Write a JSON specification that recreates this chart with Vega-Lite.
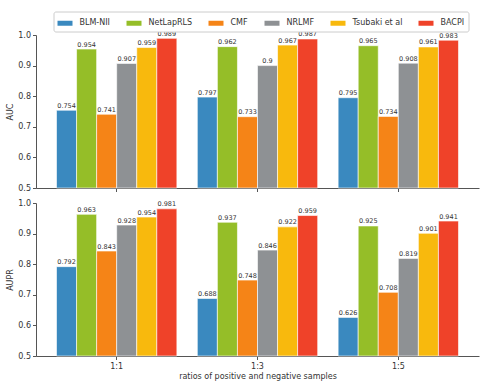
{
  "$schema": "https://vega.github.io/schema/vega-lite/v6.json",
  "padding": {"left": 6, "top": 11, "right": 5, "bottom": 5},
  "background": "white",
  "data": {
    "values": [
      {"ratio": "1:1", "method": "BLM-NII", "AUC": 0.754, "AUPR": 0.792},
      {"ratio": "1:1", "method": "NetLapRLS", "AUC": 0.954, "AUPR": 0.963},
      {"ratio": "1:1", "method": "CMF", "AUC": 0.741, "AUPR": 0.843},
      {"ratio": "1:1", "method": "NRLMF", "AUC": 0.907, "AUPR": 0.928},
      {"ratio": "1:1", "method": "Tsubaki et al", "AUC": 0.959, "AUPR": 0.954},
      {"ratio": "1:1", "method": "BACPI", "AUC": 0.989, "AUPR": 0.981},
      {"ratio": "1:3", "method": "BLM-NII", "AUC": 0.797, "AUPR": 0.688},
      {"ratio": "1:3", "method": "NetLapRLS", "AUC": 0.962, "AUPR": 0.937},
      {"ratio": "1:3", "method": "CMF", "AUC": 0.733, "AUPR": 0.748},
      {"ratio": "1:3", "method": "NRLMF", "AUC": 0.9, "AUPR": 0.846},
      {"ratio": "1:3", "method": "Tsubaki et al", "AUC": 0.967, "AUPR": 0.922},
      {"ratio": "1:3", "method": "BACPI", "AUC": 0.987, "AUPR": 0.959},
      {"ratio": "1:5", "method": "BLM-NII", "AUC": 0.795, "AUPR": 0.626},
      {"ratio": "1:5", "method": "NetLapRLS", "AUC": 0.965, "AUPR": 0.925},
      {"ratio": "1:5", "method": "CMF", "AUC": 0.734, "AUPR": 0.708},
      {"ratio": "1:5", "method": "NRLMF", "AUC": 0.908, "AUPR": 0.819},
      {"ratio": "1:5", "method": "Tsubaki et al", "AUC": 0.961, "AUPR": 0.901},
      {"ratio": "1:5", "method": "BACPI", "AUC": 0.983, "AUPR": 0.941}
    ]
  },
  "spacing": 7,
  "vconcat": [
    {
      "width": 443,
      "height": 153,
      "encoding": {
        "x": {"field": "ratio", "type": "nominal", "sort": ["1:1", "1:3", "1:5"],
              "scale": {"paddingInner": 0, "paddingOuter": 0.073},
              "axis": {"labels": false, "title": null}},
        "xOffset": {"field": "method", "type": "nominal",
                    "sort": ["BLM-NII", "NetLapRLS", "CMF", "NRLMF", "Tsubaki et al", "BACPI"],
                    "scale": {"paddingInner": 0, "paddingOuter": 0.51}},
        "y": {"field": "AUC", "type": "quantitative",
              "scale": {"domain": [0.5, 1.0], "zero": false, "nice": false},
              "axis": {"values": [0.5, 0.6, 0.7, 0.8, 0.9, 1.0], "format": ".1f", "title": "AUC"}}
      },
      "layer": [
        {
          "mark": {"type": "bar", "stroke": "white", "strokeWidth": 0.6},
          "encoding": {
            "y2": {"datum": 0.5},
            "color": {"field": "method", "type": "nominal",
                      "sort": ["BLM-NII", "NetLapRLS", "CMF", "NRLMF", "Tsubaki et al", "BACPI"],
                      "scale": {"domain": ["BLM-NII", "NetLapRLS", "CMF", "NRLMF", "Tsubaki et al", "BACPI"],
                                "range": ["#3a89bf", "#95be28", "#f58417", "#8e9194", "#f8b90d", "#ef4229"]},
                      "legend": {"orient": "none", "legendX": 17.5, "legendY": -23.5, "direction": "horizontal",
                                 "columns": 6, "title": null}}
          }
        },
        {
          "mark": {"type": "text", "baseline": "bottom", "dy": -1.5, "fontSize": 6.5, "color": "#333"},
          "encoding": {"text": {"field": "AUC", "type": "quantitative"}}
        }
      ]
    },
    {
      "width": 443,
      "height": 153,
      "encoding": {
        "x": {"field": "ratio", "type": "nominal", "sort": ["1:1", "1:3", "1:5"],
              "scale": {"paddingInner": 0, "paddingOuter": 0.073},
              "axis": {"labelAngle": 0, "labelPadding": 3, "titlePadding": 2, "title": "ratios of positive and negative samples"}},
        "xOffset": {"field": "method", "type": "nominal",
                    "sort": ["BLM-NII", "NetLapRLS", "CMF", "NRLMF", "Tsubaki et al", "BACPI"],
                    "scale": {"paddingInner": 0, "paddingOuter": 0.51}},
        "y": {"field": "AUPR", "type": "quantitative",
              "scale": {"domain": [0.5, 1.0], "zero": false, "nice": false},
              "axis": {"values": [0.5, 0.6, 0.7, 0.8, 0.9, 1.0], "format": ".1f", "title": "AUPR"}}
      },
      "layer": [
        {
          "mark": {"type": "bar", "stroke": "white", "strokeWidth": 0.6},
          "encoding": {
            "y2": {"datum": 0.5},
            "color": {"field": "method", "type": "nominal",
                      "sort": ["BLM-NII", "NetLapRLS", "CMF", "NRLMF", "Tsubaki et al", "BACPI"],
                      "scale": {"domain": ["BLM-NII", "NetLapRLS", "CMF", "NRLMF", "Tsubaki et al", "BACPI"],
                                "range": ["#3a89bf", "#95be28", "#f58417", "#8e9194", "#f8b90d", "#ef4229"]},
                      "legend": null}
          }
        },
        {
          "mark": {"type": "text", "baseline": "bottom", "dy": -1.5, "fontSize": 6.5, "color": "#333"},
          "encoding": {"text": {"field": "AUPR", "type": "quantitative"}}
        }
      ]
    }
  ],
  "config": {
    "font": "DejaVu Sans",
    "view": {"stroke": null},
    "axis": {
      "grid": false,
      "domainColor": "#555",
      "tickColor": "#555",
      "tickSize": 3.5,
      "labelFontSize": 8,
      "labelColor": "#333",
      "labelPadding": 2,
      "titleFontSize": 8,
      "titleFontWeight": "normal",
      "titleColor": "#333",
      "titlePadding": 3
    },
    "legend": {
      "labelFontSize": 8,
      "labelColor": "#333",
      "symbolType": "M-1,-0.333H1V0.333H-1Z",
      "symbolSize": 225,
      "symbolStrokeWidth": 0,
      "labelOffset": 7,
      "columnPadding": 16,
      "padding": 4,
      "strokeColor": "#cccccc",
      "fillColor": "white",
      "cornerRadius": 2
    }
  }
}
